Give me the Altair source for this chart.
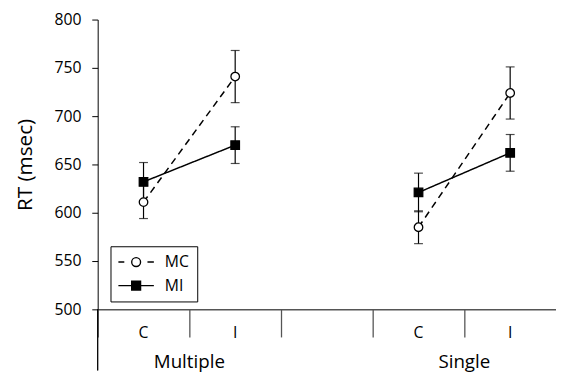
import altair as alt
import pandas as pd

# ---- data ----
groups = ["Multiple", "Multiple", "Single", "Single"]
conditions = ["C", "I", "C", "I"]
mc_mean = [611, 741, 585, 724]
mc_err = [17, 27, 17, 27]
mi_mean = [632, 670, 621, 662]
mi_err = [20, 19, 20, 19]
series_names = ["MC", "MI"]
x_domain = ["Multiple C", "Multiple I", "gap", "Single C", "Single I"]
group_labels = ["Multiple", "Single"]
y_ticks = [500, 550, 600, 650, 700, 750, 800]

FONT = "Open Sans"
W, H = 465, 294

rows = []
for s, means, errs in (("MC", mc_mean, mc_err), ("MI", mi_mean, mi_err)):
    for g, c, m, e in zip(groups, conditions, means, errs):
        rows.append({"series": s, "grp": g, "key": f"{g} {c}", "mean": m,
                     "lo": m - e, "hi": m + e})
df = pd.DataFrame(rows)
glab = pd.DataFrame({"grp": group_labels, "key": [f"{g} I" for g in group_labels]})

xscale = alt.Scale(domain=x_domain, paddingInner=0, paddingOuter=0)
yscale = alt.Scale(domain=[500, 800], nice=False, zero=False)

x_axis = alt.Axis(title=None, bandPosition=0, tickSize=28,
                  labelPadding=-12, labelAngle=0,
                  labelExpr="indexof(datum.label, ' ') > 0 ? split(datum.label, ' ')[1] : ''",
                  domainColor="#555", domainWidth=1.6, tickColor="#555", tickWidth=1.3,
                  labelFont=FONT, labelFontSize=16, labelColor="black")
y_axis = alt.Axis(title="RT (msec)", values=y_ticks, grid=False, tickSize=6,
                  labelPadding=11, domainColor="black", tickColor="black",
                  labelFont=FONT, labelFontSize=16, labelColor="black",
                  titleFont=FONT, titleFontSize=21, titleFontWeight="normal",
                  titleColor="black", titlePadding=19)

X = alt.X("key:N", scale=xscale, axis=x_axis)
base = alt.Chart(df)

rules = base.mark_rule(color="black", strokeWidth=1.2).encode(
    x=X, y=alt.Y("lo:Q", scale=yscale, axis=y_axis), y2="hi:Q")
cap_lo = base.mark_tick(color="black", size=9, thickness=1.2, orient="horizontal").encode(
    x=X, y=alt.Y("lo:Q"))
cap_hi = base.mark_tick(color="black", size=9, thickness=1.2, orient="horizontal").encode(
    x=X, y=alt.Y("hi:Q"))

lines = base.mark_line(color="black", strokeWidth=1.5).encode(
    x=X, y=alt.Y("mean:Q"),
    detail="grp:N",
    strokeDash=alt.StrokeDash("series:N", scale=alt.Scale(domain=series_names, range=[[7, 5], [1, 0]]), legend=None))

points = base.mark_point(filled=True, stroke="black", strokeWidth=1.3, size=75, opacity=1).encode(
    x=X, y=alt.Y("mean:Q"),
    shape=alt.Shape("series:N", scale=alt.Scale(domain=series_names, range=["circle", "square"]), legend=None),
    fill=alt.Fill("series:N", scale=alt.Scale(domain=series_names, range=["white", "black"]), legend=None))

# legend symbols (unit = 5 px with symbolSize 100)
mc_sym = ("M-3.6,0H-2.4M2.3,0H3.6"
          "M-0.9,0A0.9,0.9,0,1,1,0.9,0A0.9,0.9,0,1,1,-0.9,0Z")
mi_sym = "M-3.6,0H3.6M-0.9,-0.9H0.9V0.9H-0.9Z"

legend_layer = base.mark_point(clip=True, filled=False, color="black", strokeWidth=1.4,
                               fill=alt.ExprRef("(datum.value || datum.series) === 'MI' ? 'black' : 'white'")).encode(
    x=X, y=alt.value(-500),
    shape=alt.Shape("series:N", scale=alt.Scale(domain=series_names, range=[mc_sym, mi_sym]),
                    legend=alt.Legend(title=None, orient="none", legendX=13, legendY=230,
                                      strokeColor="black", fillColor="white", padding=8,
                                      symbolSize=100, symbolStrokeWidth=1.4, symbolOffset=10,
                                      symbolOpacity=1,
                                      labelFont=FONT, labelFontSize=16, labelColor="black",
                                      labelOffset=21, rowPadding=8, cornerRadius=0)))

glabels = alt.Chart(glab).mark_text(font=FONT, fontSize=19, color="black", baseline="middle").encode(
    x=alt.X("key:N", scale=xscale, bandPosition=0), y=alt.value(H + 54), text="grp:N")

yext = alt.Chart(glab).mark_rule(color="black", strokeWidth=1).encode(
    x=alt.value(0), y=alt.value(H), y2=alt.value(H + 62))

chart = alt.layer(rules, cap_lo, cap_hi, lines, points, legend_layer, glabels, yext).resolve_scale(
    shape="independent"
).properties(
    width=W, height=H,
    autosize=alt.AutoSizeParams(type="none"),
    padding={"left": 91, "top": 9, "right": 0, "bottom": 72},
).configure_view(stroke=None)

chart.save("out.html", embed_options={"renderer": "svg", "actions": False})
